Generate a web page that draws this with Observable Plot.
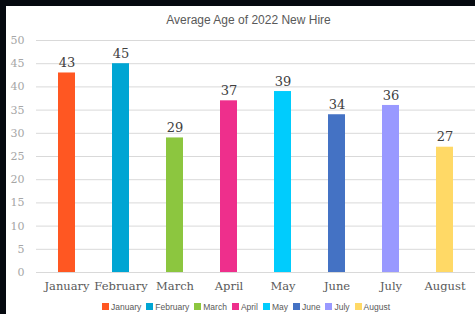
<!DOCTYPE html>
<html>
<head>
<meta charset="utf-8">
<script src="https://cdn.jsdelivr.net/npm/d3@7"></script>
<script src="https://cdn.jsdelivr.net/npm/@observablehq/plot@0.6"></script>
<style>
  html, body { margin: 0; padding: 0; background: #05090f; width: 475px; height: 314px; overflow: hidden; }
  #card { position: absolute; left: 6px; top: 6px; width: 469px; height: 308px; background: #ffffff; overflow: hidden; }
  #title { position: absolute; left: 8px; top: 7px; width: 469px; text-align: center; font-family: "Liberation Sans", Arial, sans-serif; font-size: 12px; color: #595959; }
  #chart { position: absolute; left: 0; top: 24px; }
  #legend { position: absolute; left: 8px; top: 284px; width: 469px; }
  #legend div { justify-content: center !important; margin-left: 0 !important; font-family: "Liberation Sans", Arial, sans-serif !important; font-size: 8.5px !important; color: #595959 !important; }
  #legend span { font-size: 8.5px !important; margin-right: 5px !important; }
  #legend svg { margin-right: 2px !important; }
</style>
</head>
<body>
<div id="card">
  <div id="title">Average Age of 2022 New Hire</div>
  <div id="chart"></div>
  <div id="legend"></div>
</div>
<script>
const months = ["January", "February", "March", "April", "May", "June", "July", "August"];
const ages = [43, 45, 29, 37, 39, 34, 36, 27];
const colors = ["#ff5722", "#00a5d3", "#8cc63f", "#ee2f8c", "#00ccfd", "#4472c4", "#9999ff", "#ffd966"];
const yTicks = [0, 5, 10, 15, 20, 25, 30, 35, 40, 45, 50];

const data = months.map((m, i) => ({month: m, age: ages[i]}));

const chart = Plot.plot({
  width: 469,
  height: 265,
  marginLeft: 30,
  marginRight: 0,
  marginTop: 10,
  marginBottom: 23,
  style: {background: "transparent", overflow: "visible"},
  x: {domain: months, paddingInner: 0.68, paddingOuter: 0.34, label: null, tickSize: 0, tickPadding: 9},
  y: {domain: [0, 50], ticks: yTicks, label: null, tickSize: 0, tickPadding: 12},
  color: {domain: months, range: colors},
  marks: [
    Plot.gridY(yTicks, {stroke: "#d9d9d9", strokeOpacity: 1, strokeWidth: 1}),
    Plot.barY(data, {x: "month", y: "age", fill: "month"}),
    Plot.text(data, {x: "month", y: "age", text: d => String(d.age), dy: -10, fill: "#404040", fontSize: 13, fontFamily: "DejaVu Serif"}),
    Plot.axisY({ticks: yTicks, tickSize: 0, tickPadding: 12, fill: "#a6a6a6", fontSize: 11, fontFamily: "DejaVu Serif", label: null}),
    Plot.axisX({tickSize: 0, tickPadding: 9, fill: "#595959", fontSize: 11.5, fontFamily: "DejaVu Serif", label: null})
  ]
});
document.getElementById("chart").appendChild(chart);

const legend = Plot.legend({
  color: {type: "ordinal", domain: months, range: colors},
  swatchSize: 7,
  className: "lg"
});
document.getElementById("legend").appendChild(legend);
</script>
</body>
</html>
